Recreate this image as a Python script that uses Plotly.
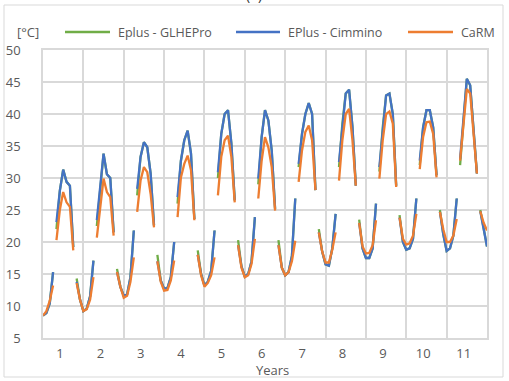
import plotly.graph_objects as go

# ---------------- data (monthly values, °C) ----------------
YEAR_LABELS = ["1", "2", "3", "4", "5", "6", "7", "8", "9", "10", "11"]
HEATING_START_MONTHS = [0, 10, 22, 34, 46, 58, 70, 82, 94, 106, 118, 130]
COOLING_START_MONTHS = [4, 16, 28, 40, 52, 64, 76, 88, 100, 112, 124]

glhepro_heating = [
    [8.5, 8.9, 10.4, 15.3],
    [14.3, 11.0, 9.2, 9.6, 11.5, 17.1],
    [15.8, 13.0, 11.6, 11.8, 14.5, 21.8],
    [18.0, 14.0, 12.7, 12.8, 14.5, 20.0],
    [18.7, 15.0, 13.2, 13.8, 15.5, 21.8],
    [20.3, 16.2, 14.6, 15.0, 17.0, 23.9],
    [20.3, 16.0, 14.8, 15.3, 17.8, 26.8],
    [22.0, 18.5, 16.5, 16.3, 19.0, 24.4],
    [23.5, 19.0, 17.5, 17.5, 19.0, 26.0],
    [24.2, 20.0, 18.8, 19.0, 20.5, 26.8],
    [25.0, 21.2, 18.6, 19.0, 21.0, 26.8],
    [25.0, 22.0, 19.3],
]
glhepro_cooling = [
    [22.0, 28.0, 31.3, 29.4, 28.8, 19.2],
    [22.5, 28.5, 33.8, 30.6, 30.0, 21.5],
    [27.3, 33.3, 35.6, 34.8, 30.7, 22.6],
    [26.0, 32.7, 35.9, 37.4, 33.8, 23.6],
    [30.0, 36.9, 40.0, 40.6, 35.4, 26.5],
    [29.0, 36.4, 40.6, 39.0, 34.3, 25.2],
    [31.7, 36.9, 40.0, 41.7, 40.0, 28.1],
    [31.7, 38.5, 43.2, 43.8, 38.0, 28.8],
    [31.0, 37.9, 42.9, 43.2, 40.0, 28.8],
    [32.0, 37.9, 40.6, 40.6, 37.9, 30.4],
    [32.0, 39.0, 45.5, 44.5, 37.9, 30.7],
]

cimmino_heating = [
    [8.5, 8.9, 10.4, 15.3],
    [13.8, 11.0, 9.2, 9.6, 11.5, 17.1],
    [15.3, 13.0, 11.6, 11.8, 14.5, 21.8],
    [17.0, 14.0, 12.7, 12.8, 14.5, 20.0],
    [18.0, 15.0, 13.2, 13.8, 15.5, 21.8],
    [19.5, 16.2, 14.6, 15.0, 17.0, 23.9],
    [19.5, 16.0, 14.8, 15.3, 17.8, 26.8],
    [21.5, 18.5, 16.5, 16.3, 19.0, 24.4],
    [23.0, 19.0, 17.5, 17.5, 19.0, 26.0],
    [23.8, 20.0, 18.8, 19.0, 20.5, 26.8],
    [24.7, 21.2, 18.6, 19.0, 21.0, 26.8],
    [24.8, 22.0, 19.3],
]
cimmino_cooling = [
    [23.1, 28.0, 31.3, 29.4, 28.8, 19.2],
    [23.4, 28.5, 33.8, 30.6, 30.0, 21.5],
    [28.3, 33.3, 35.6, 34.8, 30.7, 22.6],
    [27.0, 32.7, 35.9, 37.4, 33.8, 23.6],
    [30.9, 36.9, 40.0, 40.6, 35.4, 26.5],
    [29.9, 36.4, 40.6, 39.0, 34.3, 25.2],
    [32.2, 36.9, 40.0, 41.7, 40.0, 28.1],
    [32.5, 38.5, 43.2, 43.8, 38.0, 28.8],
    [31.7, 37.9, 42.9, 43.2, 40.0, 28.8],
    [32.7, 37.9, 40.6, 40.6, 37.9, 30.4],
    [33.0, 39.0, 45.5, 44.5, 37.9, 30.7],
]

carm_heating = [
    [8.5, 9.2, 10.8, 13.2],
    [13.6, 11.0, 9.2, 9.5, 11.0, 14.5],
    [15.3, 13.0, 11.3, 11.6, 13.8, 17.6],
    [17.0, 13.8, 12.4, 12.5, 14.0, 17.1],
    [18.0, 14.8, 13.0, 13.6, 14.8, 17.6],
    [19.5, 16.0, 14.5, 14.8, 16.6, 20.5],
    [19.5, 16.0, 14.8, 15.3, 17.0, 20.2],
    [21.5, 18.5, 16.8, 16.8, 18.8, 21.5],
    [23.0, 19.3, 18.2, 18.3, 19.5, 23.4],
    [23.8, 20.5, 19.6, 19.8, 21.0, 24.4],
    [24.7, 22.0, 20.0, 20.0, 21.0, 23.6],
    [24.8, 23.0, 21.8],
]
carm_cooling = [
    [20.3, 25.0, 27.8, 26.2, 25.5, 18.7],
    [20.7, 25.5, 29.9, 27.8, 27.0, 21.0],
    [24.7, 29.6, 31.7, 30.9, 27.5, 22.3],
    [23.9, 30.1, 32.2, 33.5, 31.2, 23.4],
    [27.3, 33.3, 35.9, 36.6, 33.3, 26.2],
    [26.8, 32.7, 36.4, 34.8, 31.7, 24.9],
    [29.4, 34.3, 37.2, 38.2, 35.9, 28.1],
    [29.6, 35.9, 40.0, 40.8, 35.9, 28.8],
    [29.9, 35.9, 40.0, 40.4, 38.5, 28.6],
    [31.4, 36.4, 38.7, 38.8, 36.9, 30.1],
    [32.7, 37.9, 43.9, 43.2, 36.9, 30.7],
]

SERIES_NAMES = ["Eplus - GLHEPro", "EPlus - Cimmino", "CaRM"]
SERIES_COLORS = ["#70AD47", "#4472C4", "#ED7D31"]
SERIES_DATA = [
    (glhepro_heating, glhepro_cooling),
    (cimmino_heating, cimmino_cooling),
    (carm_heating, carm_cooling),
]


def build_xy(heating, cooling):
    segs = list(zip(HEATING_START_MONTHS, heating)) + list(zip(COOLING_START_MONTHS, cooling))
    segs.sort(key=lambda s: s[0])
    xs, ys = [], []
    for start, vals in segs:
        for i, v in enumerate(vals):
            xs.append(start + i)
            ys.append(v)
        xs.append(None)
        ys.append(None)
    return xs, ys


fig = go.Figure()
for name, (heat, cool), color in zip(SERIES_NAMES, SERIES_DATA, SERIES_COLORS):
    xs, ys = build_xy(heat, cool)
    fig.add_trace(go.Scatter(
        x=xs, y=ys, mode="lines", name=name,
        line=dict(color=color, width=2.3),
        connectgaps=False, showlegend=False,
    ))

FONT = "Open Sans, Liberation Sans, sans-serif"
GRID = "#D9D9D9"
TXT = "#595959"

# plot area geometry (pixels)
L, R, T, B = 43, 22, 50, 43
W, H = 509, 381
PW, PH = W - L - R, H - T - B


def px_x(p):
    return (p - L) / PW


def px_y(p):
    return (H - B - p) / PH


YEAR_EDGES = list(range(0, 12 * len(YEAR_LABELS) + 1, 12))

shapes = [
    dict(type="rect", xref="paper", yref="paper",
         x0=px_x(4), x1=px_x(503), y0=px_y(377), y1=px_y(5),
         line=dict(color=GRID, width=1), fillcolor="rgba(0,0,0,0)", layer="below"),
]
annotations = [
    dict(text="[°C]", xref="paper", yref="paper", x=px_x(27.5), y=px_y(32),
         xanchor="center", yanchor="middle", showarrow=False,
         font=dict(family=FONT, size=13, color=TXT)),
    dict(text="Years", xref="paper", yref="paper", x=px_x(272.5), y=px_y(369.5),
         xanchor="center", yanchor="middle", showarrow=False,
         font=dict(family=FONT, size=13, color=TXT)),
    dict(text="(a)", xref="paper", yref="paper", x=px_x(254), y=px_y(-5),
         xanchor="center", yanchor="middle", showarrow=False,
         font=dict(family=FONT, size=14, color="#333333")),
]

# legend (drawn as key lines + labels)
LEGEND_LINE_X = [(65, 110), (236, 280), (408, 453)]
for (x0, x1), name, color in zip(LEGEND_LINE_X, SERIES_NAMES, SERIES_COLORS):
    shapes.append(dict(type="line", xref="paper", yref="paper",
                       x0=px_x(x0), x1=px_x(x1), y0=px_y(32), y1=px_y(32),
                       line=dict(color=color, width=2.3)))
    annotations.append(dict(text=name, xref="paper", yref="paper",
                            x=px_x(x1 + 6), y=px_y(32), xanchor="left", yanchor="middle",
                            showarrow=False, font=dict(family=FONT, size=12.5, color=TXT)))

fig.update_layout(
    width=W, height=H,
    margin=dict(l=L, r=R, t=T, b=B, pad=0, autoexpand=False),
    paper_bgcolor="white", plot_bgcolor="white",
    font=dict(family=FONT, size=13, color=TXT),
    showlegend=False,
    xaxis=dict(
        range=[0, 132], zeroline=False,
        tickmode="array", tickvals=YEAR_EDGES, ticktext=YEAR_LABELS + [""],
        showgrid=True, gridcolor=GRID, gridwidth=1.5,
        ticks="", showline=True, linecolor=GRID, linewidth=1.5, mirror=True,
        tickfont=dict(family=FONT, size=13, color=TXT),
        ticklabelshift=17, ticklabelstandoff=3,
    ),
    yaxis=dict(
        range=[5, 50], tickmode="linear", tick0=5, dtick=5,
        showgrid=True, gridcolor=GRID, gridwidth=1.5, zeroline=False,
        showline=True, linecolor=GRID, linewidth=1.5, mirror=True,
        ticks="", tickfont=dict(family=FONT, size=13, color=TXT),
        ticklabelstandoff=18,
    ),
    shapes=shapes,
    annotations=annotations,
)

fig.write_html(
    "out.html",
    config={"displayModeBar": False},
    post_script="document.body.style.margin='0';document.body.style.overflow='hidden';",
)
